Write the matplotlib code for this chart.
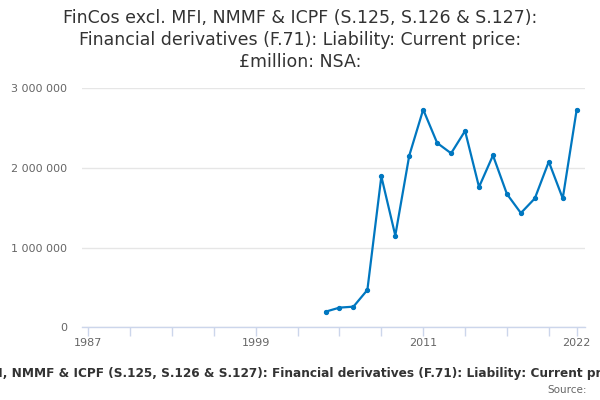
import matplotlib
matplotlib.use("Agg")
import matplotlib.pyplot as plt
from matplotlib.ticker import FuncFormatter, FixedLocator
from matplotlib.font_manager import FontProperties

years = list(range(2004, 2023))
values = [196000, 247000, 259000, 469000, 1894000, 1152000, 2155000, 2733000,
          2314000, 2184000, 2465000, 1761000, 2158000, 1673000, 1434000,
          1618000, 2079000, 1618000, 2733000]
x_ticks = [1987, 1990, 1993, 1996, 1999, 2002, 2005, 2008, 2011, 2014, 2017, 2020, 2022]
x_labels = [1987, 1999, 2011, 2022]
y_ticks = [0, 1000000, 2000000, 3000000]

title_lines = ["FinCos excl. MFI, NMMF & ICPF (S.125, S.126 & S.127):",
               "Financial derivatives (F.71): Liability: Current price:",
               "£million: NSA:"]
cap_pre = "FinCos excl. MFI, "
cap_mid = "NMMF & ICPF (S.125, S.126 & S.127): Financial derivatives (F.71): Liability: "
cap_post = "Current price: £million: NSA:"
caption = cap_pre + cap_mid + cap_post

plt.rcParams['font.family'] = ['DejaVu Sans']
fig = plt.figure(figsize=(6, 4), dpi=100)
ax = fig.add_axes([81.7/600, 1-327.3/400, (585-81.7)/600, (327.3-88.3)/400])

ax.plot(years, values, color='#0077c0', lw=1.6, marker='o', ms=2.8, zorder=3, clip_on=False)

ax.set_xlim(1987 - 6.6/13.95, 2022 + 8.3/13.95)
ax.set_ylim(0, 3000000)

ax.xaxis.set_major_locator(FixedLocator(x_ticks))
ax.xaxis.set_major_formatter(FuncFormatter(lambda v, p: str(int(round(v))) if int(round(v)) in x_labels else ''))
ax.yaxis.set_major_locator(FixedLocator(y_ticks))
ax.yaxis.set_major_formatter(FuncFormatter(lambda v, p: f"{int(v):,}".replace(",", " ")))

ax.grid(axis='y', color='#e6e6e6', lw=1)
ax.set_axisbelow(True)
for s in ['top', 'right', 'left']:
    ax.spines[s].set_visible(False)
ax.spines['bottom'].set_color('#ccd6eb')
ax.spines['bottom'].set_linewidth(1)
ax.tick_params(axis='x', length=6.5, color='#ccd6eb', width=1, labelsize=8, labelcolor='#666666', pad=1)
ax.tick_params(axis='y', length=0, labelsize=8, labelcolor='#666666', pad=10.5)

for line, yc in zip(title_lines, [18.3, 40.0, 61.7]):
    fig.text(0.5, 1 - yc/400, line, ha='center', va='center', fontsize=12.5, color='#333333')

# caption: fit so that "NMMF" starts near x=12 px and "Current" near x=529 px, as in the reference
renderer = fig.canvas.get_renderer()
def tw(s, size):
    fp = FontProperties(family='DejaVu Sans', weight='bold', size=size)
    w, h, d = renderer.get_text_width_height_descent(s, fp, ismath=False)
    return w
def seg(size):
    pre = tw(cap_pre + "N", size) - tw("N", size)
    mid = tw(cap_pre + cap_mid + "C", size) - tw("C", size) - pre
    return pre, mid
_, mid0 = seg(8.5)
cap_size = 8.5 * 517.0 / mid0
pre, _ = seg(cap_size)
fig.text((12.0 - pre) / 600, 1 - 373.3/400, caption, ha='left', va='center', fontsize=cap_size,
         fontweight='bold', color='#333333')
fig.text(587.3/600, 1 - 390/400, "Source:", ha='right', va='center', fontsize=7.5, color='#666666')

fig.savefig("out.png", dpi=100)
